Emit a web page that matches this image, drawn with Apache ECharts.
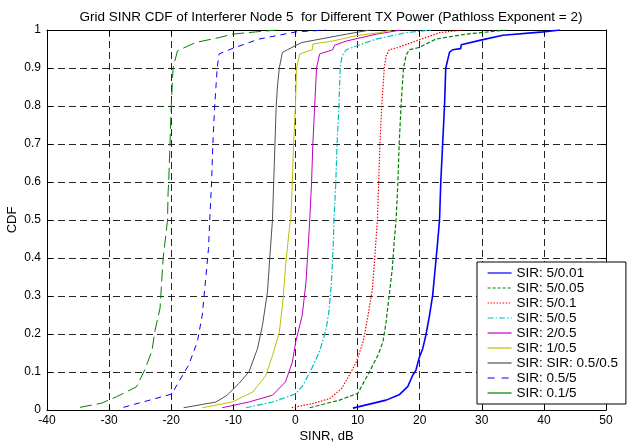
<!DOCTYPE html>
<html>
<head>
<meta charset="utf-8">
<script src="https://cdn.jsdelivr.net/npm/echarts@6/dist/echarts.min.js"></script>
<style>
  html, body { margin: 0; padding: 0; background: #fff; }
  #chart { width: 629px; height: 443px; }
</style>
</head>
<body>
<div id="chart"></div>
<script>
// tick values
const xTicks = [-40, -30, -20, -10, 0, 10, 20, 30, 40, 50]
const yTicks = [0, 0.1, 0.2, 0.3, 0.4, 0.5, 0.6, 0.7, 0.8, 0.9, 1]

const seriesNames = ['SIR: 5/0.01', 'SIR: 5/0.05', 'SIR: 5/0.1', 'SIR: 5/0.5', 'SIR: 2/0.5',
  'SIR: 1/0.5', 'SIR: SIR: 0.5/0.5', 'SIR: 0.5/5', 'SIR: 0.1/5']

// CDF curves, [SINR dB, CDF]
const sir_5_001 = [[9.25, 0.005], [14.6, 0.026], [16.7, 0.04], [18.1, 0.062], [18.9, 0.092], [19.4, 0.105],
  [19.9, 0.136], [20.5, 0.162], [21.0, 0.197], [21.6, 0.25], [22.1, 0.303], [22.5, 0.373], [22.9, 0.443],
  [23.2, 0.5], [23.4, 0.6], [23.7, 0.7], [24.0, 0.8], [24.2, 0.9], [24.8, 0.941], [25.3, 0.948],
  [26.6, 0.951], [26.7, 0.961], [30.0, 0.974], [33.4, 0.986], [39.9, 0.995], [42.6, 1.0]]
const sir_5_005 = [[2.3, 0.006], [7.1, 0.026], [10.05, 0.044], [10.9, 0.07], [11.9, 0.1], [13.3, 0.145],
  [14.1, 0.18], [14.6, 0.232], [15.1, 0.303], [15.6, 0.373], [15.9, 0.443], [16.2, 0.5], [16.5, 0.6],
  [16.7, 0.7], [17.0, 0.8], [17.4, 0.9], [17.8, 0.932], [18.3, 0.948], [19.9, 0.954], [22.6, 0.976],
  [27.4, 0.989], [34.0, 1.0]]
const sir_5_01 = [[-0.6, 0.006], [2.8, 0.017], [5.5, 0.03], [7.4, 0.056], [8.7, 0.092], [9.8, 0.126],
  [10.9, 0.18], [11.7, 0.25], [12.4, 0.32], [12.8, 0.408], [13.2, 0.5], [13.4, 0.6], [13.6, 0.7],
  [13.9, 0.8], [14.3, 0.9], [14.6, 0.932], [15.1, 0.948], [16.5, 0.954], [19.4, 0.971], [23.2, 0.993],
  [27.0, 1.0]]
const sir_5_05 = [[-8.0, 0.006], [-3.7, 0.021], [0, 0.042], [1.2, 0.065], [2.5, 0.105], [3.9, 0.155],
  [4.9, 0.21], [5.4, 0.26], [5.8, 0.337], [6.1, 0.44], [6.2, 0.5], [6.5, 0.6], [6.7, 0.7], [7.0, 0.8],
  [7.2, 0.9], [7.5, 0.932], [8.2, 0.948], [9.8, 0.958], [13.0, 0.976], [17.8, 0.993], [22.0, 1.0]]
const sir_2_05 = [[-11.8, 0.006], [-7.5, 0.021], [-3.7, 0.039], [-1.6, 0.074], [-0.5, 0.126], [0.05, 0.18],
  [1.1, 0.25], [1.7, 0.337], [2.2, 0.47], [2.3, 0.5], [2.6, 0.6], [2.8, 0.7], [3.1, 0.8], [3.4, 0.9],
  [3.9, 0.937], [6.0, 0.948], [6.3, 0.96], [8.2, 0.971], [13.0, 0.989], [17.0, 1.0]]
const sir_1_05 = [[-15.0, 0.006], [-10.2, 0.021], [-6.9, 0.047], [-4.8, 0.09], [-3.7, 0.143], [-2.6, 0.204],
  [-2.0, 0.29], [-1.6, 0.378], [-0.9, 0.49], [-0.75, 0.5], [-0.5, 0.6], [-0.3, 0.7], [0, 0.8], [0.16, 0.9],
  [0.7, 0.937], [2.7, 0.948], [2.8, 0.963], [6.0, 0.971], [9.8, 0.985], [13.5, 0.993], [15.5, 1.0]]
const sir_05_05 = [[-18.0, 0.006], [-12.8, 0.021], [-11.0, 0.039], [-9.1, 0.07], [-7.5, 0.1], [-6.1, 0.162],
  [-5.3, 0.224], [-4.5, 0.311], [-4.1, 0.408], [-3.7, 0.5], [-3.5, 0.6], [-3.3, 0.7], [-3.1, 0.8],
  [-2.9, 0.85], [-2.6, 0.9], [-2.1, 0.941], [-1.3, 0.948], [1.0, 0.967], [8.2, 0.989], [12.0, 1.0]]
const sir_05_5 = [[-27.7, 0.007], [-19.9, 0.042], [-18.8, 0.074], [-17.2, 0.118], [-15.8, 0.179],
  [-15.0, 0.25], [-14.5, 0.337], [-14.0, 0.425], [-13.8, 0.5], [-13.5, 0.6], [-13.3, 0.7], [-13.0, 0.8],
  [-12.6, 0.9], [-12.3, 0.937], [-10.2, 0.951], [-5.9, 0.976], [0.05, 0.995], [5.0, 1.0]]
const sir_01_5 = [[-34.7, 0.007], [-31.2, 0.018], [-28.8, 0.035], [-25.6, 0.061], [-24.2, 0.108],
  [-23.1, 0.156], [-22.6, 0.21], [-21.8, 0.268], [-21.3, 0.4], [-20.8, 0.469], [-20.6, 0.5], [-20.5, 0.574],
  [-20.4, 0.6], [-20.2, 0.7], [-20.0, 0.8], [-19.7, 0.9], [-19.0, 0.945], [-16.1, 0.967], [-12.3, 0.98],
  [-10.2, 0.989], [-6.4, 0.995], [-3.0, 1.0]]

const curves = [sir_5_001, sir_5_005, sir_5_01, sir_5_05, sir_2_05, sir_1_05, sir_05_05, sir_05_5, sir_01_5]
const colors = ['#0000ff', '#008000', '#ff0000', '#00bfbf', '#bf00bf', '#bfbf00', '#505050', '#0000ff', '#008000']
// line styles in the plot
const dashes = ['solid', [4, 2], [1.5, 1.5], [6, 2, 1.5, 2], 'solid', 'solid', 'solid', [6, 5], [12, 5]]
const widths = [1.6, 1.2, 1.2, 1.2, 1, 1, 1, 1, 1]
// legend samples (0.5/5 keeps its dash, 0.1/5 is shown solid)
const legendDashes = ['solid', [3, 2], [1.5, 1.5], [6, 2, 1.5, 2], 'solid', 'solid', 'solid', [7, 7], 'solid']

const font = 'Liberation Sans, Arial, sans-serif'
const gridLine = {show: true, lineStyle: {color: '#000', type: [7, 4], width: 1, opacity: 0.85}}

const chart = echarts.init(document.getElementById('chart'), null, {renderer: 'canvas'})

const option = {
  animation: false,
  backgroundColor: '#fff',
  title: {
    text: 'Grid SINR CDF of Interferer Node 5  for Different TX Power (Pathloss Exponent = 2)',
    left: 326,
    textAlign: 'center',
    top: 5,
    textStyle: {fontFamily: font, fontSize: 13.5, fontWeight: 'normal', color: '#000'}
  },
  grid: {left: 47, right: 23, top: 30, bottom: 33, containLabel: false, outerBoundsMode: 'none'},
  legend: {
    orient: 'vertical',
    left: 477,
    top: 262,
    padding: [4, 8, 4, 10],
    itemWidth: 24,
    itemHeight: 14,
    itemGap: 1,
    backgroundColor: '#fff',
    borderColor: '#000',
    borderWidth: 1,
    borderRadius: 0,
    textStyle: {fontFamily: font, fontSize: 13.5, color: '#000'},
    data: seriesNames.map((name, i) => ({
      name: name,
      itemStyle: {opacity: 0},
      lineStyle: {type: legendDashes[i], width: 1.2, color: colors[i], opacity: 1}
    }))
  },
  xAxis: [{
    type: 'value',
    min: xTicks[0],
    max: xTicks[xTicks.length - 1],
    interval: 10,
    name: 'SINR, dB',
    nameLocation: 'middle',
    nameGap: 20,
    nameMoveOverlap: false,
    nameTextStyle: {fontFamily: font, fontSize: 13, color: '#000'},
    axisLine: {onZero: false, lineStyle: {color: '#000'}},
    axisTick: {inside: true, length: 5, lineStyle: {color: '#000'}},
    axisLabel: {fontFamily: font, fontSize: 12, color: '#000', margin: 5},
    splitLine: gridLine
  }, {
    type: 'value',
    position: 'top',
    min: xTicks[0],
    max: xTicks[xTicks.length - 1],
    interval: 10,
    axisLine: {onZero: false, lineStyle: {color: '#000'}},
    axisTick: {inside: true, length: 5, lineStyle: {color: '#000'}},
    axisLabel: {show: false},
    splitLine: {show: false}
  }],
  yAxis: [{
    type: 'value',
    min: yTicks[0],
    max: yTicks[yTicks.length - 1],
    interval: 0.1,
    name: 'CDF',
    nameLocation: 'middle',
    nameGap: 28,
    nameMoveOverlap: false,
    nameTextStyle: {fontFamily: font, fontSize: 13, color: '#000'},
    axisLine: {show: true, onZero: false, lineStyle: {color: '#000'}},
    axisTick: {show: true, inside: true, length: 5, lineStyle: {color: '#000'}},
    axisLabel: {fontFamily: font, fontSize: 12, color: '#000', margin: 6,
      formatter: v => (v === 0 || v === 1) ? String(v) : v.toFixed(1)},
    splitLine: gridLine
  }, {
    type: 'value',
    position: 'right',
    min: yTicks[0],
    max: yTicks[yTicks.length - 1],
    interval: 0.1,
    axisLine: {show: true, onZero: false, lineStyle: {color: '#000'}},
    axisTick: {show: true, inside: true, length: 5, lineStyle: {color: '#000'}},
    axisLabel: {show: false},
    splitLine: {show: false}
  }],
  series: curves.map((data, i) => ({
    name: seriesNames[i],
    type: 'line',
    data: data,
    symbol: 'none',
    showSymbol: false,
    clip: true,
    lineStyle: {color: colors[i], width: widths[i], type: dashes[i]},
    itemStyle: {color: colors[i]},
    z: 3
  }))
}

chart.setOption(option)
</script>
</body>
</html>
